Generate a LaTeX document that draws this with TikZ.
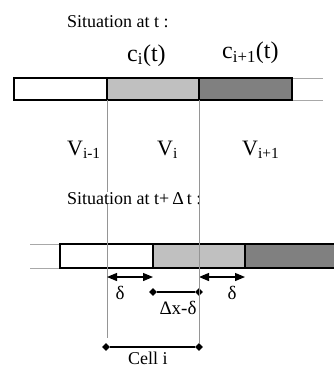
\documentclass[tikz,border=0pt]{standalone}
\usepackage{fontspec}
\setmainfont{Liberation Serif}
\usepackage{xcolor}
\usetikzlibrary{arrows.meta, positioning, shapes.geometric}
\definecolor{lightcell}{HTML}{C0C0C0}
\definecolor{darkcell}{HTML}{808080}
\definecolor{gridline}{HTML}{959595}
\definecolor{tailline}{HTML}{A8A8A8}

\begin{document}
\begin{tikzpicture}[x=1pt, y=-1pt,
    cell/.style={draw=black, line width=1.2pt},
    tail/.style={draw=tailline, line width=0.9pt},
    bound/.style={draw=gridline, line width=1pt},
    span/.style={line width=1.2pt,
      {Triangle[length=10pt,width=8pt]}-{Triangle[length=10pt,width=8pt]}},
    tick/.style={diamond, fill=black, inner sep=0pt, minimum size=8pt},
    lbl/.style={inner sep=0pt, anchor=base west},
    sit/.style={lbl, font=\fontsize{18}{20}\selectfont},
    conc/.style={lbl, font=\fontsize{24}{26}\selectfont},
    vol/.style={lbl, font=\fontsize{22}{24}\selectfont},
    len/.style={inner sep=0pt, font=\fontsize{19}{21}\selectfont}]
  \useasboundingbox (0,0) rectangle (334,369);

  % situation at t
  \node[sit] (sitt) at (67,28) {Situation at t :};
  \node[conc] (ci) at (127,61) {c\textsubscript{i}(t)};
  \node[conc] (cip) at (222,59) {c\textsubscript{i+1}(t)};
  \draw[tail] (292,78) -- (323,78) (292,100) -- (323,100);
  \draw[cell, fill=white] (14,78) rectangle (107,100);
  \draw[cell, fill=lightcell] (107,78) rectangle (199,100);
  \draw[cell, fill=darkcell] (199,78) rectangle (292,100);

  \node[vol] (vim) at (67,155) {V\textsubscript{i-1}};
  \node[vol] (vi) at (157,155) {V\textsubscript{i}};
  \node[vol] (vip) at (242,155) {V\textsubscript{i+1}};

  % situation at t+dt
  \draw[tail] (30,244) -- (60,244) (30,268) -- (60,268);
  \draw[cell, fill=white] (60,244) rectangle (153,268);
  \draw[cell, fill=lightcell] (153,244) rectangle (245,268);
  \draw[cell, fill=darkcell] (245,244) rectangle (340,268);

  \coordinate (bl) at (107,100);
  \coordinate (br) at (199,100);
  \draw[bound] (bl) -- (107,338);
  \node[sit, fill=white, inner xsep=1pt] (sitdt) at (66,204) {Situation at t+\,Δ\,t :};

  % lengths
  \coordinate (d1a) at (107,277);
  \coordinate (d1b) at (153,277);
  \coordinate (d2a) at (199,277);
  \coordinate (d2b) at (245,277);
  \draw[span] (d1a) -- (d1b);
  \draw[span] (d2a) -- (d2b);
  \node[len] (d1) at (120,293) {δ};
  \node[len] (d2) at (232,293) {δ};

  \node[tick] (m1) at (153,292) {};
  \node[tick] (m2) at (199,292) {};
  \draw[line width=1.2pt] (m1) -- (m2);
  \node[len] (dxd) at (178,308) {Δx-δ};

  \node[tick] (c1) at (106,347) {};
  \node[tick] (c2) at (199,347) {};
  \draw[line width=1.2pt] (c1) -- (c2);
  \draw[bound] (br) -- (c2);
  \node[len, anchor=base west, font=\fontsize{18}{20}\selectfont] (cell) at (128,364) {Cell i};
\end{tikzpicture}
\end{document}
